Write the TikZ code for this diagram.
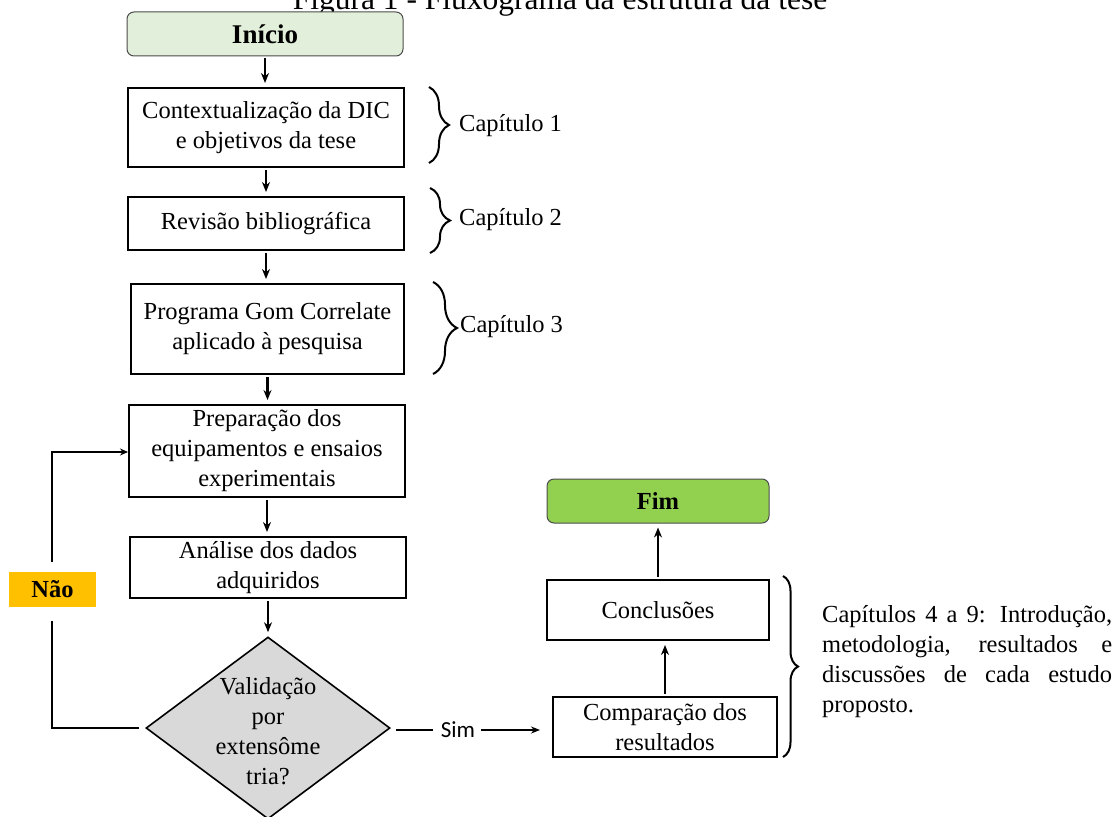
\documentclass[tikz,border=0pt]{standalone}
\usepackage{fontspec}
\setmainfont{Liberation Serif}
\newfontfamily\simfont{Carlito}
\usetikzlibrary{shapes.geometric,arrows.meta,decorations.pathreplacing}
\definecolor{startgreen}{HTML}{E2EFDA}
\definecolor{endgreen}{HTML}{92D050}
\definecolor{naoorange}{HTML}{FFC000}
\definecolor{decgrey}{HTML}{D9D9D9}
\begin{document}
\begin{tikzpicture}[x=1pt,y=-1pt,
  txt/.style={font=\fontsize{24.5}{30}\selectfont},
  procbox/.style={txt,draw=black,line width=2pt,align=center,inner sep=0pt},
  termbox/.style={draw=black!70,line width=1pt,rounded corners=7pt,inner sep=0pt,font=\fontsize{24.5}{30}\selectfont\bfseries},
  decision/.style={diamond,draw=black,line width=1.6pt,fill=decgrey,inner sep=0pt,minimum width=244pt,minimum height=182pt},
  flow/.style={line width=2.2pt,-{Stealth[length=10pt,width=8pt]},shorten >=4pt,shorten <=2pt},
  plainline/.style={line width=2pt},
  chbrace/.style={line width=2pt,decorate,decoration={brace,amplitude=20pt}},
]
\useasboundingbox (0,0) rectangle (1115,816);

% partially visible title
\node[anchor=base,font=\fontsize{31.5}{34}\selectfont] (title) at (560,10) {Figura 1 - Fluxograma da estrutura da tese};

% nodes
\node[termbox,fill=startgreen,minimum width=276pt,minimum height=44pt,font=\fontsize{27}{30}\selectfont\bfseries] (start) at (265,34) {Início};
\node[procbox,minimum width=276pt,minimum height=79pt] (b1) at (266,127.5) {Contextualização da DIC\\e objetivos da tese};
\node[procbox,minimum width=276pt,minimum height=53pt] (b2) at (266,223.5) {Revisão bibliográfica};
\node[procbox,minimum width=273pt,minimum height=90pt] (b3) at (267.5,329) {Programa Gom Correlate\\aplicado à pesquisa};
\node[procbox,minimum width=276pt,minimum height=92pt] (b4) at (267,451) {Preparação dos\\equipamentos e ensaios\\experimentais};
\node[procbox,minimum width=276pt,minimum height=61pt] (b5) at (268,567.5) {Análise dos dados\\adquiridos};
\node[decision] (dec) at (268,728) {};
\node[txt,align=center] (dectxt) at (268,731) {Validação\\por\\extensôme\\tria?};
\node[procbox,minimum width=224pt,minimum height=60pt] (comp) at (665,727) {Comparação dos\\resultados};
\node[procbox,minimum width=222pt,minimum height=60pt] (concl) at (658,610) {Conclusões};
\node[termbox,fill=endgreen,minimum width=222pt,minimum height=44pt] (fim) at (658,501) {Fim};
\node[fill=naoorange,minimum width=87pt,minimum height=35pt,inner sep=0pt,font=\fontsize{24.5}{30}\selectfont\bfseries] (nao) at (52.5,589.5) {Não};
\node[font=\simfont\fontsize{23}{26}\selectfont,inner sep=0pt] (sim) at (458,730) {Sim};

% chapter labels
\node[txt,anchor=west,inner sep=0pt] (c1) at (459,126) {Capítulo 1};
\node[txt,anchor=west,inner sep=0pt] (c2) at (459,220) {Capítulo 2};
\node[txt,anchor=west,inner sep=0pt] (c3) at (460,327) {Capítulo 3};
\node[txt,anchor=north west,inner sep=0pt,align=left] (c49) at (822,605) {%
\makebox[290pt][s]{Capítulos 4 a 9: Introdução,}\\
\makebox[290pt][s]{metodologia, resultados e}\\
\makebox[290pt][s]{discussões de cada estudo}\\
proposto.};

% braces
\coordinate (br1a) at (429,87);  \coordinate (br1b) at (429,163);
\coordinate (br2a) at (430,188); \coordinate (br2b) at (430,253);
\coordinate (br3a) at (433,282); \coordinate (br3b) at (433,374);
\coordinate (br4a) at (783,576); \coordinate (br4b) at (783,757);
\draw[chbrace] (br1a) -- (br1b);
\draw[chbrace] (br2a) -- (br2b);
\draw[chbrace,decoration={brace,amplitude=24pt}] (br3a) -- (br3b);
\draw[chbrace,decoration={brace,amplitude=15pt}] (br4a) -- (br4b);

% main flow
\draw[flow] (start.south) -- (start.south |- b1.north);
\draw[flow] (b1.south) -- (b2.north);
\draw[flow] (b2.south) -- (b2.south |- b3.north);
\draw[flow] (b3.south) -- (b3.south |- b4.north);
\draw[flow] (b4.south) -- (b4.south |- b5.north);
\draw[flow] (b5.south) -- (dec.north);

% Não loop
\coordinate (nbot) at (52,621);
\coordinate (ntop) at (52,562);
\coordinate (ncorner) at (52,452);
\draw[plainline,shorten <=6pt] (dec.west) -- (dec.west -| nbot) -- (nbot);
\draw[line width=2pt,-{Stealth[length=8pt,width=7pt]}] (ntop) -- (ncorner) -- (ncorner -| b4.west);

% Sim branch
\draw[plainline,shorten <=5pt,shorten >=8pt] (dec.east |- sim.west) -- (sim.west);
\draw[line width=1.8pt,-{Stealth[length=9pt,width=7pt]},shorten <=6pt,shorten >=12pt] (sim.east) -- (sim.east -| comp.west);

% up arrows
\draw[flow] (comp.north) -- (comp.north |- concl.south);
\draw[flow] (concl.north) -- (fim.south);
\end{tikzpicture}
\end{document}
